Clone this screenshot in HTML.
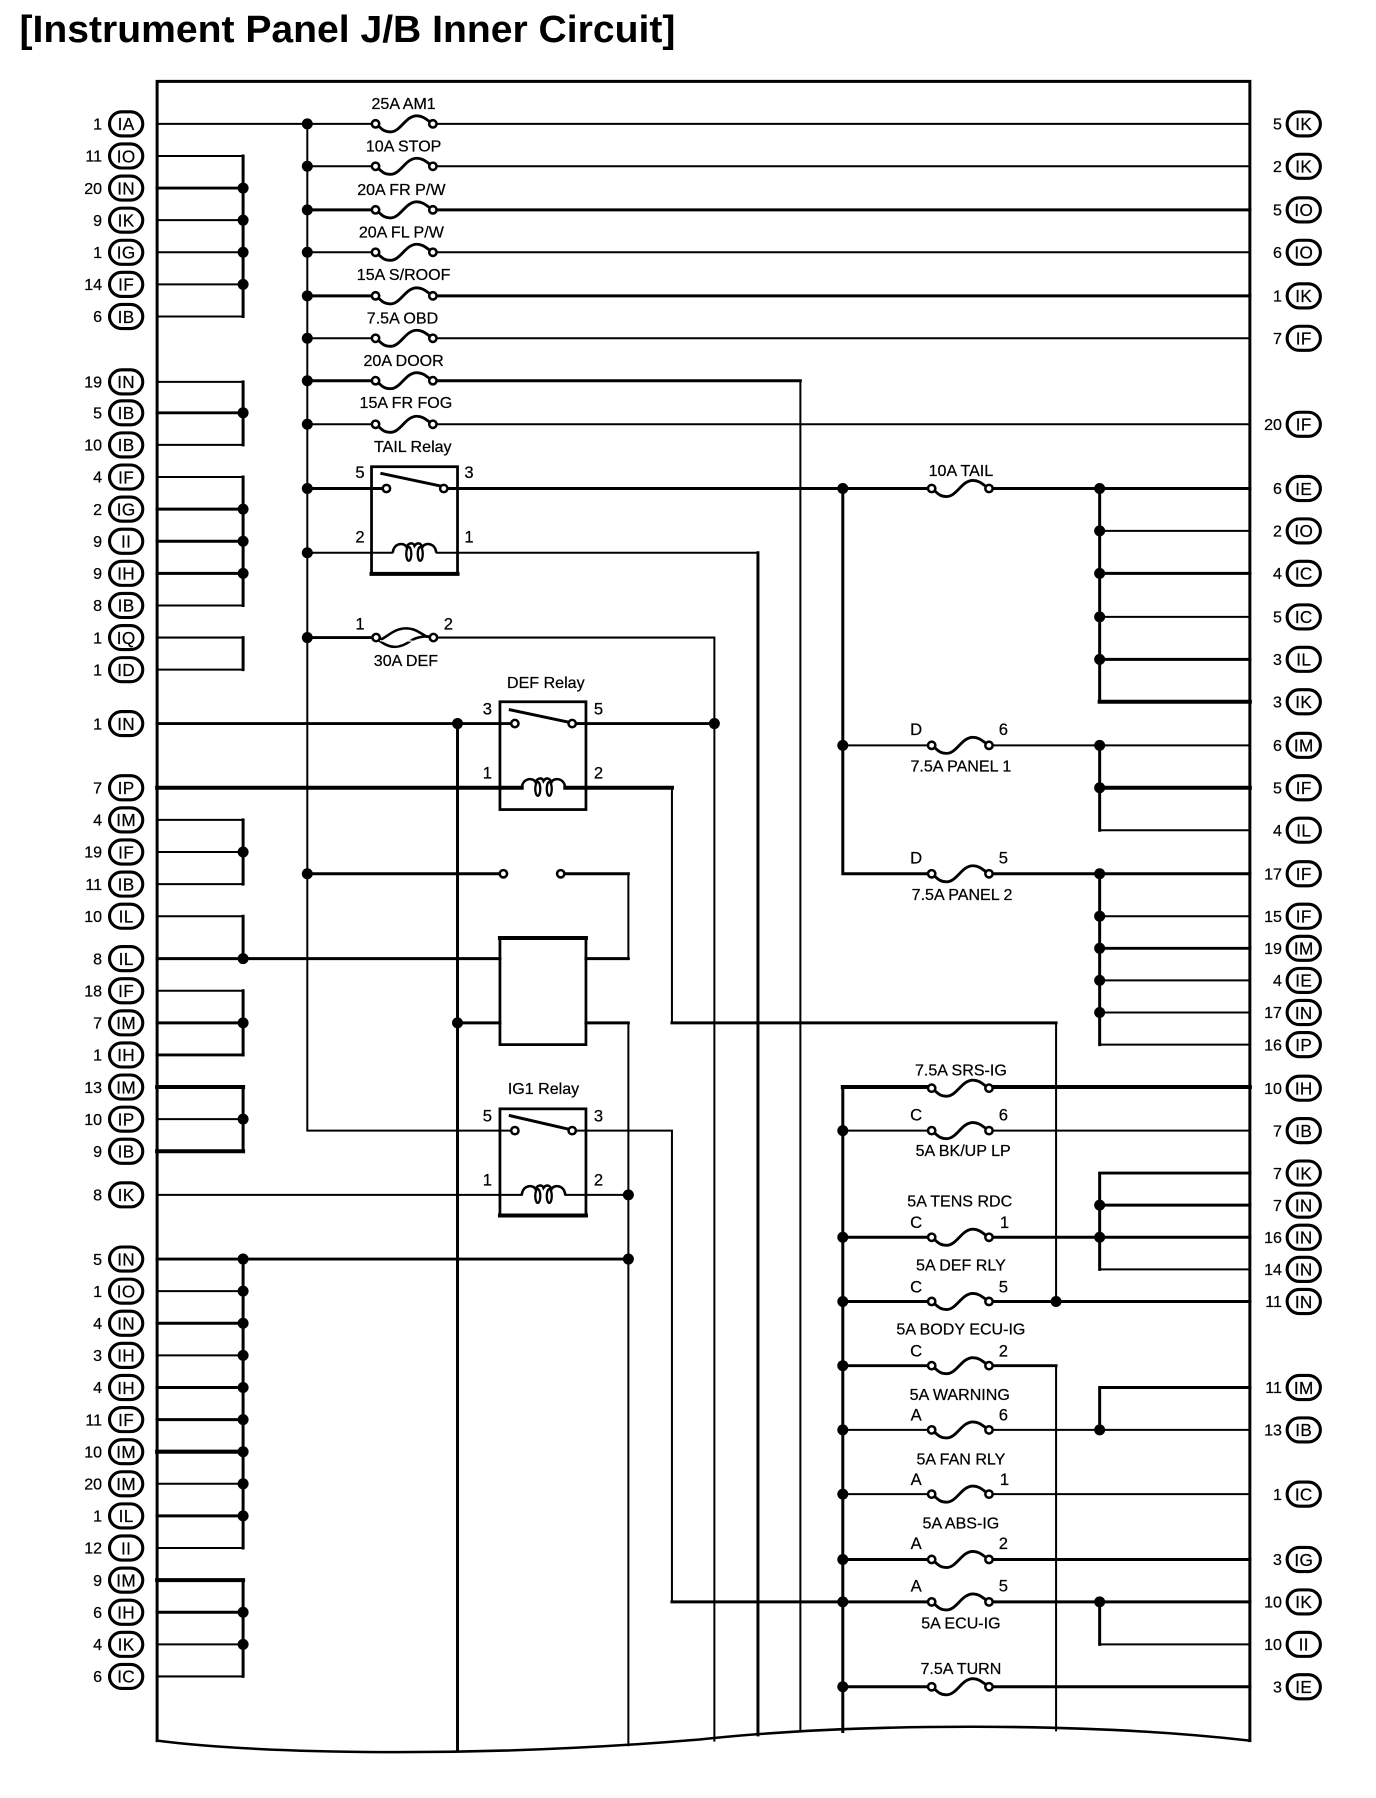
<!DOCTYPE html>
<html><head><meta charset="utf-8"><style>
html,body{margin:0;padding:0;background:#fff}
svg{display:block}
text{font-family:"Liberation Sans",sans-serif;fill:#000}
.w{fill:none;stroke:#000;stroke-linecap:square}
.a{stroke-width:1.75}.b{stroke-width:2.6}.c{stroke-width:3.5}
.t{font-size:14px;text-anchor:middle;stroke:#000;stroke-width:.2}
.k{font-size:15px;text-anchor:middle;letter-spacing:.3px;stroke:#000;stroke-width:.2}
.n{font-size:14px;text-anchor:end;stroke:#000;stroke-width:.2}
.p{font-size:14.5px;text-anchor:middle;stroke:#000;stroke-width:.2}
</style></head><body>
<svg xmlns="http://www.w3.org/2000/svg" width="1376" height="1798" viewBox="0 0 1200 1568">
<defs>
<g id="f"><path d="M-23 1.500C-20 4-18 7-12 7C-3 7 1-7 11-7C17-7 20-3 23-1.500" fill="none" stroke="#000" stroke-width="2.5"/><circle cx="-25" cy="0" r="3.2" fill="#fff" stroke="#000" stroke-width="2.2"/><circle cx="25" cy="0" r="3.2" fill="#fff" stroke="#000" stroke-width="2.2"/></g>
<g id="fd"><path d="M-22 2C-12 10-4 10 6 3C12-1 18-1 24-1" fill="none" stroke="#000" stroke-width="2.2"/><path d="M-22 2C-16 2-10-8 2-8C12-8 16-2 24 1" fill="none" stroke="#000" stroke-width="2.2"/><path d="M-22 2C-12 6-4 2 6 3C12 4 18 2 24 0" fill="none" stroke="#fff" stroke-width="1"/><circle cx="-24" cy="0" r="3.2" fill="#fff" stroke="#000" stroke-width="2.2"/><circle cx="26" cy="0" r="3.2" fill="#fff" stroke="#000" stroke-width="2.2"/></g>
<rect id="c" x="-14.5" y="-10.5" width="29" height="21" rx="10.5" fill="#fff" stroke="#000" stroke-width="2.7"/>
<circle id="d" r="4.8" fill="#000"/>
<circle id="o" r="3.2" fill="#fff" stroke="#000" stroke-width="2.2"/>
<g id="coil"><path d="M-19 0C-18-9-9-9-7-5C-5-9-1-9 0-6C2-9 5-9 7-5C9-9 18-9 19 0" fill="none" stroke="#000" stroke-width="2.2"/><ellipse cx="-5" cy="1" rx="2.2" ry="6" fill="none" stroke="#000" stroke-width="2"/><ellipse cx="5" cy="1" rx="2.2" ry="6" fill="none" stroke="#000" stroke-width="2"/></g>
</defs>

<text x="17" y="36.500" font-size="33" font-weight="bold" textLength="572" lengthAdjust="spacingAndGlyphs">[Instrument Panel J/B Inner Circuit]</text>

<!-- frame -->
<path class="w b" d="M137 1518V71H1090V1518"/>
<path class="w a" d="M137 1518C230 1530 420 1533 610 1517C750 1502 950 1502 1090 1518" style="stroke-width:2.2"/>

<!-- left group wires -->
<path class="w a" d="M137 108H327M137 136H212M137 192H212M137 220H212M137 248H212M137 276H212M137 333H212M137 388H212M137 416H212M137 528H212M137 556H212M137 584H212M137 715H212M137 743H212M137 771H212M137 799H212M137 864H212M137 976H212M137 1042H455M137 1126H212M137 1182H212M137 1294H212M137 1350H212M137 1434H212M137 1462H212"/>
<path class="w b" d="M137 164H212M137 360H212M137 444H212M137 472H212M137 500H212M137 631H445M137 836H436M137 892H212M137 920H212M137 1098H548M137 1154H212M137 1210H212M137 1238H212M137 1322H212M137 1406H212"/>
<path class="w c" d="M137 687H455M137 948H212M137 1004H212M137 1266H212M137 1378H212"/>
<path class="w b" d="M212 136V276M212 333V388M212 416V528M212 556V584M212 715V771M212 799V836M212 864V920M212 948V1004M212 1098V1350M212 1378V1462"/>

<!-- main bus & fuse row wires -->
<path class="w a" d="M268 108V986H445M268 145H327M268 220H327M268 295H327M268 370H327M268 482H342"/>
<path class="w b" d="M268 183H327M268 258H327M268 332H327M268 426H333M268 556H328M268 762H435"/>
<path class="w a" d="M378 108H1090M378 145H1090M378 220H1090M378 295H1090M378 370H1090"/>
<path class="w b" d="M378 183H1090M378 258H1090M378 332H698"/>
<path class="w a" d="M698 332V1510"/>
<path class="w b" d="M391 426H811M661 482V1513"/>
<path class="w a" d="M381 482H661"/>
<path class="w a" d="M382 556H623V1518"/>

<!-- relays -->
<rect x="324" y="407" width="75" height="93.500" fill="none" stroke="#000" stroke-width="2.4"/>
<path class="w c" d="M324 500.500H399"/>
<rect x="436" y="612" width="75" height="94" fill="none" stroke="#000" stroke-width="2.4"/>
<rect x="436" y="818" width="75" height="93" fill="none" stroke="#000" stroke-width="2.4"/>
<path class="w c" d="M436 818H511"/>
<rect x="436" y="967" width="75" height="93" fill="none" stroke="#000" stroke-width="2.4"/>
<path class="w c" d="M436 1060H511"/>
<path class="w b" d="M333 413L385 424M445 619L497 630M445 973L497 985"/>
<use href="#o" x="337" y="426"/><use href="#o" x="387" y="426"/>
<use href="#o" x="449" y="631"/><use href="#o" x="499" y="631"/>
<use href="#o" x="449" y="986"/><use href="#o" x="499" y="986"/>
<use href="#o" x="439" y="762"/><use href="#o" x="489" y="762"/>
<use href="#coil" x="361.500" y="482"/><use href="#coil" x="474" y="687"/><use href="#coil" x="474" y="1042"/>

<!-- middle wires -->
<path class="w b" d="M399 631V1527"/>
<path class="w b" d="M503 631H623"/>
<path class="w c" d="M493 687H586"/>
<path class="w a" d="M586 687V892"/>
<path class="w b" d="M586 892H921"/>
<path class="w a" d="M921 892V1135M921 1191V1509"/>
<path class="w b" d="M493 762H548M511 836H548M399 892H436M511 892H548"/>
<path class="w a" d="M548 762V836M548 892V1522M493 1042H548M503 986H586V1397"/>
<path class="w b" d="M586 1397H811"/>

<!-- right section -->
<path class="w b" d="M735 426V762H811M735 948V1510"/>
<path class="w a" d="M735 650H811"/>
<path class="w b" d="M863 426H1090M959 426V612M959 500H1090M959 575H1090M959 650V724M863 762H1090M959 762V911M959 827H1090"/>
<path class="w a" d="M959 463H1090M959 538H1090M863 650H1090M959 724H1090M959 799H1090M959 855H1090M959 883H1090M959 911H1090"/>
<path class="w c" d="M959 612H1090M959 687H1090M735 948H811M863 948H1090"/>
<path class="w a" d="M735 986H811M863 986H1090M735 1247H811M863 1247H1090M735 1303H811M863 1303H1090M959 1107H1090M959 1434H1090"/>
<path class="w b" d="M735 1079H811M863 1079H1090M735 1135H811M863 1135H1090M735 1191H811M863 1191H921M735 1360H811M863 1360H1090M863 1397H1090M735 1471H811M863 1471H1090M959 1023V1107M959 1023H1090M959 1051H1090M959 1210H1090M959 1210V1247M959 1397V1434"/>

<!-- fuses -->
<use href="#f" x="352.500" y="108"/><use href="#f" x="352.500" y="145"/><use href="#f" x="352.500" y="183"/><use href="#f" x="352.500" y="220"/><use href="#f" x="352.500" y="258"/><use href="#f" x="352.500" y="295"/><use href="#f" x="352.500" y="332"/><use href="#f" x="352.500" y="370"/>
<use href="#fd" x="352" y="556"/>
<use href="#f" x="837.500" y="426"/><use href="#f" x="837.500" y="650"/><use href="#f" x="837.500" y="762"/><use href="#f" x="837.500" y="949"/><use href="#f" x="837.500" y="986"/><use href="#f" x="837.500" y="1079"/><use href="#f" x="837.500" y="1135"/><use href="#f" x="837.500" y="1191"/><use href="#f" x="837.500" y="1247"/><use href="#f" x="837.500" y="1303"/><use href="#f" x="837.500" y="1360"/><use href="#f" x="837.500" y="1397"/><use href="#f" x="837.500" y="1471"/>

<!-- dots -->
<use href="#d" x="212" y="164"/><use href="#d" x="212" y="192"/><use href="#d" x="212" y="220"/><use href="#d" x="212" y="248"/><use href="#d" x="212" y="360"/><use href="#d" x="212" y="444"/><use href="#d" x="212" y="472"/><use href="#d" x="212" y="500"/><use href="#d" x="212" y="743"/><use href="#d" x="212" y="836"/><use href="#d" x="212" y="892"/><use href="#d" x="212" y="976"/><use href="#d" x="212" y="1098"/><use href="#d" x="212" y="1126"/><use href="#d" x="212" y="1154"/><use href="#d" x="212" y="1182"/><use href="#d" x="212" y="1210"/><use href="#d" x="212" y="1238"/><use href="#d" x="212" y="1266"/><use href="#d" x="212" y="1294"/><use href="#d" x="212" y="1322"/><use href="#d" x="212" y="1406"/><use href="#d" x="212" y="1434"/>
<use href="#d" x="268" y="108"/><use href="#d" x="268" y="145"/><use href="#d" x="268" y="183"/><use href="#d" x="268" y="220"/><use href="#d" x="268" y="258"/><use href="#d" x="268" y="295"/><use href="#d" x="268" y="332"/><use href="#d" x="268" y="370"/><use href="#d" x="268" y="426"/><use href="#d" x="268" y="482"/><use href="#d" x="268" y="556"/><use href="#d" x="268" y="762"/>
<use href="#d" x="399" y="631"/><use href="#d" x="399" y="892"/><use href="#d" x="623" y="631"/><use href="#d" x="548" y="1042"/><use href="#d" x="548" y="1098"/>
<use href="#d" x="735" y="426"/><use href="#d" x="735" y="650"/><use href="#d" x="735" y="986"/><use href="#d" x="735" y="1079"/><use href="#d" x="735" y="1135"/><use href="#d" x="735" y="1191"/><use href="#d" x="735" y="1247"/><use href="#d" x="735" y="1303"/><use href="#d" x="735" y="1360"/><use href="#d" x="735" y="1397"/><use href="#d" x="735" y="1471"/>
<use href="#d" x="921" y="1135"/>
<use href="#d" x="959" y="426"/><use href="#d" x="959" y="463"/><use href="#d" x="959" y="500"/><use href="#d" x="959" y="538"/><use href="#d" x="959" y="575"/><use href="#d" x="959" y="650"/><use href="#d" x="959" y="687"/><use href="#d" x="959" y="762"/><use href="#d" x="959" y="799"/><use href="#d" x="959" y="827"/><use href="#d" x="959" y="855"/><use href="#d" x="959" y="883"/><use href="#d" x="959" y="1051"/><use href="#d" x="959" y="1079"/><use href="#d" x="959" y="1247"/><use href="#d" x="959" y="1397"/>

<!-- fuse & relay labels -->
<text class="t" x="352" y="95">25A AM1</text>
<text class="t" x="352" y="132">10A STOP</text>
<text class="t" x="350" y="170">20A FR P/W</text>
<text class="t" x="350" y="207">20A FL P/W</text>
<text class="t" x="352" y="244">15A S/ROOF</text>
<text class="t" x="351" y="282">7.5A OBD</text>
<text class="t" x="352" y="319">20A DOOR</text>
<text class="t" x="354" y="356">15A FR FOG</text>
<text class="t" x="360" y="394">TAIL Relay</text>
<text class="p" x="314" y="417">5</text><text class="p" x="409" y="417">3</text><text class="p" x="314" y="473">2</text><text class="p" x="409" y="473">1</text>
<text class="p" x="314" y="549">1</text><text class="p" x="391" y="549">2</text>
<text class="t" x="354" y="581">30A DEF</text>
<text class="t" x="476" y="600">DEF Relay</text>
<text class="p" x="425" y="623">3</text><text class="p" x="522" y="623">5</text><text class="p" x="425" y="679">1</text><text class="p" x="522" y="679">2</text>
<text class="t" x="474" y="954">IG1 Relay</text>
<text class="p" x="425" y="978">5</text><text class="p" x="522" y="978">3</text><text class="p" x="425" y="1034">1</text><text class="p" x="522" y="1034">2</text>

<text class="t" x="838" y="415">10A TAIL</text>
<text class="p" x="799" y="641">D</text><text class="p" x="875" y="641">6</text><text class="t" x="838" y="673">7.5A PANEL 1</text>
<text class="p" x="799" y="753">D</text><text class="p" x="875" y="753">5</text><text class="t" x="839" y="785">7.5A PANEL 2</text>
<text class="t" x="838" y="938">7.5A SRS-IG</text>
<text class="p" x="799" y="977">C</text><text class="p" x="875" y="977">6</text><text class="t" x="840" y="1008">5A BK/UP LP</text>
<text class="t" x="837" y="1052">5A TENS RDC</text><text class="p" x="799" y="1071">C</text><text class="p" x="876" y="1071">1</text>
<text class="t" x="838" y="1108">5A DEF RLY</text><text class="p" x="799" y="1127">C</text><text class="p" x="875" y="1127">5</text>
<text class="t" x="838" y="1164">5A BODY ECU-IG</text><text class="p" x="799" y="1183">C</text><text class="p" x="875" y="1183">2</text>
<text class="t" x="837" y="1221">5A WARNING</text><text class="p" x="799" y="1239">A</text><text class="p" x="875" y="1239">6</text>
<text class="t" x="838" y="1277">5A FAN RLY</text><text class="p" x="799" y="1295">A</text><text class="p" x="876" y="1295">1</text>
<text class="t" x="838" y="1333">5A ABS-IG</text><text class="p" x="799" y="1351">A</text><text class="p" x="875" y="1351">2</text>
<text class="p" x="799" y="1388">A</text><text class="p" x="875" y="1388">5</text><text class="t" x="838" y="1420">5A ECU-IG</text>
<text class="t" x="838" y="1460">7.5A TURN</text>

<!-- left connectors -->
<use href="#c" x="110" y="108"/><text class="k" x="110" y="113.500">IA</text><text class="n" x="89" y="113">1</text>
<use href="#c" x="110" y="136"/><text class="k" x="110" y="141.500">IO</text><text class="n" x="89" y="141">11</text>
<use href="#c" x="110" y="164"/><text class="k" x="110" y="169.500">IN</text><text class="n" x="89" y="169">20</text>
<use href="#c" x="110" y="192"/><text class="k" x="110" y="197.500">IK</text><text class="n" x="89" y="197">9</text>
<use href="#c" x="110" y="220"/><text class="k" x="110" y="225.500">IG</text><text class="n" x="89" y="225">1</text>
<use href="#c" x="110" y="248"/><text class="k" x="110" y="253.500">IF</text><text class="n" x="89" y="253">14</text>
<use href="#c" x="110" y="276"/><text class="k" x="110" y="281.500">IB</text><text class="n" x="89" y="281">6</text>
<use href="#c" x="110" y="333"/><text class="k" x="110" y="338.500">IN</text><text class="n" x="89" y="338">19</text>
<use href="#c" x="110" y="360"/><text class="k" x="110" y="365.500">IB</text><text class="n" x="89" y="365">5</text>
<use href="#c" x="110" y="388"/><text class="k" x="110" y="393.500">IB</text><text class="n" x="89" y="393">10</text>
<use href="#c" x="110" y="416"/><text class="k" x="110" y="421.500">IF</text><text class="n" x="89" y="421">4</text>
<use href="#c" x="110" y="444"/><text class="k" x="110" y="449.500">IG</text><text class="n" x="89" y="449">2</text>
<use href="#c" x="110" y="472"/><text class="k" x="110" y="477.500">II</text><text class="n" x="89" y="477">9</text>
<use href="#c" x="110" y="500"/><text class="k" x="110" y="505.500">IH</text><text class="n" x="89" y="505">9</text>
<use href="#c" x="110" y="528"/><text class="k" x="110" y="533.500">IB</text><text class="n" x="89" y="533">8</text>
<use href="#c" x="110" y="556"/><text class="k" x="110" y="561.500">IQ</text><text class="n" x="89" y="561">1</text>
<use href="#c" x="110" y="584"/><text class="k" x="110" y="589.500">ID</text><text class="n" x="89" y="589">1</text>
<use href="#c" x="110" y="631"/><text class="k" x="110" y="636.500">IN</text><text class="n" x="89" y="636">1</text>
<use href="#c" x="110" y="687"/><text class="k" x="110" y="692.500">IP</text><text class="n" x="89" y="692">7</text>
<use href="#c" x="110" y="715"/><text class="k" x="110" y="720.500">IM</text><text class="n" x="89" y="720">4</text>
<use href="#c" x="110" y="743"/><text class="k" x="110" y="748.500">IF</text><text class="n" x="89" y="748">19</text>
<use href="#c" x="110" y="771"/><text class="k" x="110" y="776.500">IB</text><text class="n" x="89" y="776">11</text>
<use href="#c" x="110" y="799"/><text class="k" x="110" y="804.500">IL</text><text class="n" x="89" y="804">10</text>
<use href="#c" x="110" y="836"/><text class="k" x="110" y="841.500">IL</text><text class="n" x="89" y="841">8</text>
<use href="#c" x="110" y="864"/><text class="k" x="110" y="869.500">IF</text><text class="n" x="89" y="869">18</text>
<use href="#c" x="110" y="892"/><text class="k" x="110" y="897.500">IM</text><text class="n" x="89" y="897">7</text>
<use href="#c" x="110" y="920"/><text class="k" x="110" y="925.500">IH</text><text class="n" x="89" y="925">1</text>
<use href="#c" x="110" y="948"/><text class="k" x="110" y="953.500">IM</text><text class="n" x="89" y="953">13</text>
<use href="#c" x="110" y="976"/><text class="k" x="110" y="981.500">IP</text><text class="n" x="89" y="981">10</text>
<use href="#c" x="110" y="1004"/><text class="k" x="110" y="1009.500">IB</text><text class="n" x="89" y="1009">9</text>
<use href="#c" x="110" y="1042"/><text class="k" x="110" y="1047.500">IK</text><text class="n" x="89" y="1047">8</text>
<use href="#c" x="110" y="1098"/><text class="k" x="110" y="1103.500">IN</text><text class="n" x="89" y="1103">5</text>
<use href="#c" x="110" y="1126"/><text class="k" x="110" y="1131.500">IO</text><text class="n" x="89" y="1131">1</text>
<use href="#c" x="110" y="1154"/><text class="k" x="110" y="1159.500">IN</text><text class="n" x="89" y="1159">4</text>
<use href="#c" x="110" y="1182"/><text class="k" x="110" y="1187.500">IH</text><text class="n" x="89" y="1187">3</text>
<use href="#c" x="110" y="1210"/><text class="k" x="110" y="1215.500">IH</text><text class="n" x="89" y="1215">4</text>
<use href="#c" x="110" y="1238"/><text class="k" x="110" y="1243.500">IF</text><text class="n" x="89" y="1243">11</text>
<use href="#c" x="110" y="1266"/><text class="k" x="110" y="1271.500">IM</text><text class="n" x="89" y="1271">10</text>
<use href="#c" x="110" y="1294"/><text class="k" x="110" y="1299.500">IM</text><text class="n" x="89" y="1299">20</text>
<use href="#c" x="110" y="1322"/><text class="k" x="110" y="1327.500">IL</text><text class="n" x="89" y="1327">1</text>
<use href="#c" x="110" y="1350"/><text class="k" x="110" y="1355.500">II</text><text class="n" x="89" y="1355">12</text>
<use href="#c" x="110" y="1378"/><text class="k" x="110" y="1383.500">IM</text><text class="n" x="89" y="1383">9</text>
<use href="#c" x="110" y="1406"/><text class="k" x="110" y="1411.500">IH</text><text class="n" x="89" y="1411">6</text>
<use href="#c" x="110" y="1434"/><text class="k" x="110" y="1439.500">IK</text><text class="n" x="89" y="1439">4</text>
<use href="#c" x="110" y="1462"/><text class="k" x="110" y="1467.500">IC</text><text class="n" x="89" y="1467">6</text>

<!-- right connectors -->
<use href="#c" x="1137" y="108"/><text class="k" x="1137" y="113.500">IK</text><text class="n" x="1118" y="113">5</text>
<use href="#c" x="1137" y="145"/><text class="k" x="1137" y="150.500">IK</text><text class="n" x="1118" y="150">2</text>
<use href="#c" x="1137" y="183"/><text class="k" x="1137" y="188.500">IO</text><text class="n" x="1118" y="188">5</text>
<use href="#c" x="1137" y="220"/><text class="k" x="1137" y="225.500">IO</text><text class="n" x="1118" y="225">6</text>
<use href="#c" x="1137" y="258"/><text class="k" x="1137" y="263.500">IK</text><text class="n" x="1118" y="263">1</text>
<use href="#c" x="1137" y="295"/><text class="k" x="1137" y="300.500">IF</text><text class="n" x="1118" y="300">7</text>
<use href="#c" x="1137" y="370"/><text class="k" x="1137" y="375.500">IF</text><text class="n" x="1118" y="375">20</text>
<use href="#c" x="1137" y="426"/><text class="k" x="1137" y="431.500">IE</text><text class="n" x="1118" y="431">6</text>
<use href="#c" x="1137" y="463"/><text class="k" x="1137" y="468.500">IO</text><text class="n" x="1118" y="468">2</text>
<use href="#c" x="1137" y="500"/><text class="k" x="1137" y="505.500">IC</text><text class="n" x="1118" y="505">4</text>
<use href="#c" x="1137" y="538"/><text class="k" x="1137" y="543.500">IC</text><text class="n" x="1118" y="543">5</text>
<use href="#c" x="1137" y="575"/><text class="k" x="1137" y="580.500">IL</text><text class="n" x="1118" y="580">3</text>
<use href="#c" x="1137" y="612"/><text class="k" x="1137" y="617.500">IK</text><text class="n" x="1118" y="617">3</text>
<use href="#c" x="1137" y="650"/><text class="k" x="1137" y="655.500">IM</text><text class="n" x="1118" y="655">6</text>
<use href="#c" x="1137" y="687"/><text class="k" x="1137" y="692.500">IF</text><text class="n" x="1118" y="692">5</text>
<use href="#c" x="1137" y="724"/><text class="k" x="1137" y="729.500">IL</text><text class="n" x="1118" y="729">4</text>
<use href="#c" x="1137" y="762"/><text class="k" x="1137" y="767.500">IF</text><text class="n" x="1118" y="767">17</text>
<use href="#c" x="1137" y="799"/><text class="k" x="1137" y="804.500">IF</text><text class="n" x="1118" y="804">15</text>
<use href="#c" x="1137" y="827"/><text class="k" x="1137" y="832.500">IM</text><text class="n" x="1118" y="832">19</text>
<use href="#c" x="1137" y="855"/><text class="k" x="1137" y="860.500">IE</text><text class="n" x="1118" y="860">4</text>
<use href="#c" x="1137" y="883"/><text class="k" x="1137" y="888.500">IN</text><text class="n" x="1118" y="888">17</text>
<use href="#c" x="1137" y="911"/><text class="k" x="1137" y="916.500">IP</text><text class="n" x="1118" y="916">16</text>
<use href="#c" x="1137" y="949"/><text class="k" x="1137" y="954.500">IH</text><text class="n" x="1118" y="954">10</text>
<use href="#c" x="1137" y="986"/><text class="k" x="1137" y="991.500">IB</text><text class="n" x="1118" y="991">7</text>
<use href="#c" x="1137" y="1023"/><text class="k" x="1137" y="1028.500">IK</text><text class="n" x="1118" y="1028">7</text>
<use href="#c" x="1137" y="1051"/><text class="k" x="1137" y="1056.500">IN</text><text class="n" x="1118" y="1056">7</text>
<use href="#c" x="1137" y="1079"/><text class="k" x="1137" y="1084.500">IN</text><text class="n" x="1118" y="1084">16</text>
<use href="#c" x="1137" y="1107"/><text class="k" x="1137" y="1112.500">IN</text><text class="n" x="1118" y="1112">14</text>
<use href="#c" x="1137" y="1135"/><text class="k" x="1137" y="1140.500">IN</text><text class="n" x="1118" y="1140">11</text>
<use href="#c" x="1137" y="1210"/><text class="k" x="1137" y="1215.500">IM</text><text class="n" x="1118" y="1215">11</text>
<use href="#c" x="1137" y="1247"/><text class="k" x="1137" y="1252.500">IB</text><text class="n" x="1118" y="1252">13</text>
<use href="#c" x="1137" y="1303"/><text class="k" x="1137" y="1308.500">IC</text><text class="n" x="1118" y="1308">1</text>
<use href="#c" x="1137" y="1360"/><text class="k" x="1137" y="1365.500">IG</text><text class="n" x="1118" y="1365">3</text>
<use href="#c" x="1137" y="1397"/><text class="k" x="1137" y="1402.500">IK</text><text class="n" x="1118" y="1402">10</text>
<use href="#c" x="1137" y="1434"/><text class="k" x="1137" y="1439.500">II</text><text class="n" x="1118" y="1439">10</text>
<use href="#c" x="1137" y="1471"/><text class="k" x="1137" y="1476.500">IE</text><text class="n" x="1118" y="1476">3</text>
</svg>
</body></html>
